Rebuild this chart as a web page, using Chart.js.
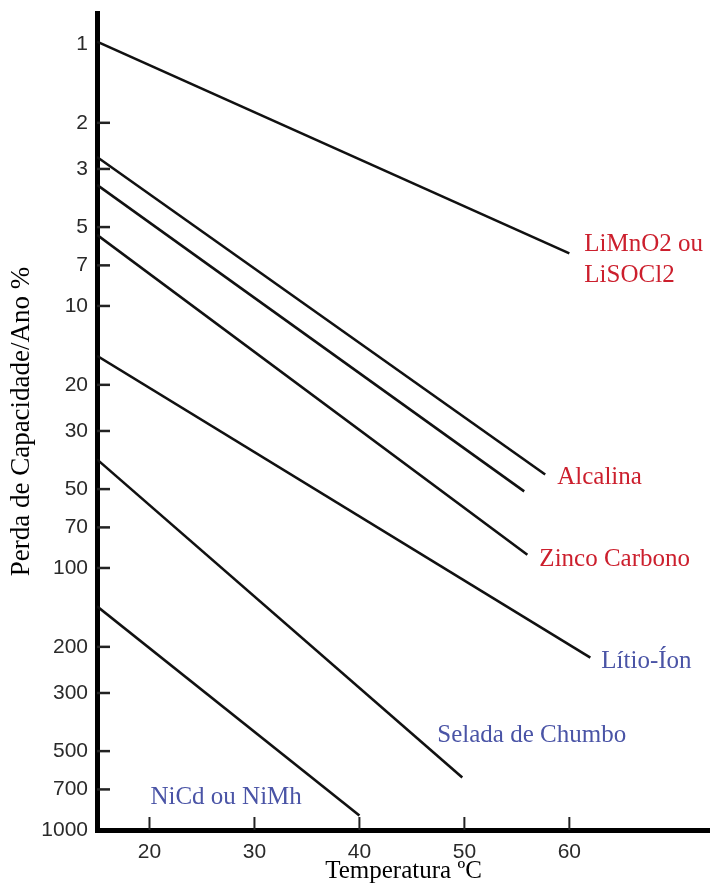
<!DOCTYPE html>
<html lang="pt">
<head>
  <meta charset="UTF-8" />
  <title>Perda de Capacidade por Temperatura</title>
  <style>
    * { box-sizing: border-box; margin: 0; padding: 0; }
    body { background: #fff; width: 710px; height: 894px; overflow: hidden; }
    #wrap { position: relative; width: 710px; height: 894px; }
  </style>
</head>
<body>
  <div id="wrap"><canvas id="lossChart"></canvas></div>

  <script src="https://cdn.jsdelivr.net/npm/chart.js@4"></script>
  <script>
    // battery types (label shown next to the end of each line; '' = no label)
    const batteryNames = ['LiMnO2 ou|LiSOCl2', 'Alcalina', '', 'Zinco Carbono', 'Lítio-Íon', 'Selada de Chumbo', 'NiCd ou NiMh'];
    const labelColors = ['#cc1f2d', '#cc1f2d', '', '#cc1f2d', '#4a54a6', '#4a54a6', '#4a54a6'];

    // each line goes from (startTemp, startLoss) to (endTemp, endLoss)
    const startTemp = [15, 15, 15, 15, 15, 15, 15];
    const startLoss = [0.98, 2.7, 3.45, 5.35, 15.5, 38.5, 140];
    const endTemp = [60, 57.7, 55.7, 56, 62, 49.8, 40];
    const endLoss = [6.3, 44, 51, 89, 220, 630, 880];

    const xTicks = [20, 30, 40, 50, 60];
    const yTicks = [1, 2, 3, 5, 7, 10, 20, 30, 50, 70, 100, 200, 300, 500, 700, 1000];

    // label offset from line end, in px
    const labelOffsets = [[15, -9], [12, 3], [0, 0], [12, 5], [11, 4], [-25, -42], [-209, -18]];

    const datasets = batteryNames.map((name, i) => ({
      label: name,
      data: [{ x: startTemp[i], y: startLoss[i] }, { x: endTemp[i], y: endLoss[i] }],
      borderColor: '#111',
      borderWidth: 2.6,
      pointRadius: 0,
      fill: false,
      tension: 0
    }));

    // small tick marks drawn inside the plot, like the original figure
    const innerTicks = {
      id: 'innerTicks',
      afterDraw(chart) {
        const { ctx, scales: { x, y }, chartArea } = chart;
        ctx.save();
        ctx.strokeStyle = '#222';
        ctx.lineWidth = 2.5;
        yTicks.forEach(v => {
          if (v === 1 || v === 1000) return;
          const py = y.getPixelForValue(v);
          ctx.beginPath();
          ctx.moveTo(chartArea.left, py);
          ctx.lineTo(chartArea.left + 13, py);
          ctx.stroke();
        });
        ctx.lineWidth = 2;
        xTicks.forEach(v => {
          const px = x.getPixelForValue(v);
          ctx.beginPath();
          ctx.moveTo(px, chartArea.bottom);
          ctx.lineTo(px, chartArea.bottom - 13);
          ctx.stroke();
        });
        ctx.restore();
      }
    };

    // red / blue names next to the lines
    const lineNames = {
      id: 'lineNames',
      afterDatasetsDraw(chart) {
        const { ctx } = chart;
        ctx.save();
        ctx.font = '25px "Liberation Serif", "Times New Roman", serif';
        ctx.textAlign = 'left';
        ctx.textBaseline = 'middle';
        batteryNames.forEach((name, i) => {
          if (!name) return;
          const pts = chart.getDatasetMeta(i).data;
          const end = pts[pts.length - 1];
          ctx.fillStyle = labelColors[i];
          name.split('|').forEach((line, k) => {
            ctx.fillText(line, end.x + labelOffsets[i][0], end.y + labelOffsets[i][1] + k * 31);
          });
        });
        ctx.restore();
      }
    };

    const tickFont = { family: '"Liberation Sans", Arial, sans-serif', size: 21 };

    new Chart(document.getElementById('lossChart'), {
      type: 'line',
      data: { datasets },
      plugins: [innerTicks, lineNames],
      options: {
        responsive: true,
        maintainAspectRatio: false,
        animation: false,
        layout: { padding: { top: 13, right: 0, left: 0, bottom: 0 } },
        plugins: { legend: { display: false }, tooltip: { enabled: false } },
        scales: {
          x: {
            type: 'linear',
            min: 15,
            max: 73.4,
            afterBuildTicks: s => { s.ticks = xTicks.map(v => ({ value: v })); },
            afterFit: s => { s.height = 64; s.paddingLeft = 0; s.paddingRight = 0; },
            grid: { drawOnChartArea: false, drawTicks: false },
            border: { color: '#000', width: 5 },
            ticks: { color: '#2a2a2a', font: tickFont, padding: 10, maxRotation: 0 },
            title: { display: true, text: 'Temperatura ºC', color: '#000', font: { family: '"Liberation Serif", serif', size: 25 }, padding: { top: 0, bottom: 8 } }
          },
          y: {
            type: 'logarithmic',
            reverse: true,
            min: 0.762,
            max: 1000,
            afterBuildTicks: s => { s.ticks = yTicks.map(v => ({ value: v })); },
            afterFit: s => { s.width = 97; s.paddingTop = 0; s.paddingBottom = 0; },
            grid: { drawOnChartArea: false, drawTicks: false },
            border: { color: '#000', width: 5 },
            ticks: { color: '#2a2a2a', font: tickFont, padding: 9, autoSkip: false, callback: v => String(v) },
            title: { display: true, text: 'Perda de Capacidade/Ano %', color: '#000', font: { family: '"Liberation Serif", serif', size: 27 }, padding: { top: 6, bottom: 0 } }
          }
        }
      }
    });
  </script>
</body>
</html>
